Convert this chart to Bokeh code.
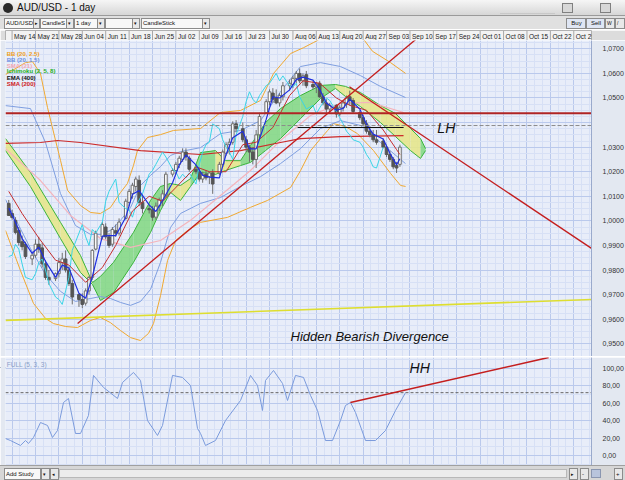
import numpy as np
import pandas as pd
from bokeh.plotting import figure
from bokeh.models import Range1d, LinearAxis, FixedTicker, Grid, CustomJSTickFormatter, Label, Div
from bokeh.layouts import column
from bokeh.core.properties import value
from bokeh.embed import file_html
from bokeh.resources import INLINE

FONT = "Liberation Sans"

# ---------------- data ----------------
week_labels = ["May 14", "May 21", "May 28", "Jun 04", "Jun 11", "Jun 18", "Jun 25", "Jul 02",
               "Jul 09", "Jul 16", "Jul 23", "Jul 30", "Aug 06", "Aug 13", "Aug 20", "Aug 27",
               "Sep 03", "Sep 10", "Sep 17", "Sep 24", "Oct 01", "Oct 08", "Oct 15", "Oct 22", "Oct 29"]
price_ticks = [0.95, 0.96, 0.97, 0.98, 0.99, 1.00, 1.01, 1.02, 1.03, 1.04, 1.05, 1.06, 1.07]
stoch_ticks = [0, 20, 40, 60, 80, 100]

opens = [1.0071, 1.0030, 1.0002, 0.9961, 0.9915, 0.9905,
         0.9845, 0.9860, 0.9905, 0.9890, 0.9825, 0.9770,
         0.9765, 0.9785, 0.9830, 0.9845, 0.9800, 0.9745,
         0.9700, 0.9680, 0.9665, 0.9715, 0.9770, 0.9885,
         0.9935, 0.9975, 0.9935, 0.9905, 0.9960, 0.9950,
         1.0010, 1.0075, 1.0110, 1.0140, 1.0165, 1.0075,
         1.0050, 1.0045, 1.0015, 1.0060, 1.0085, 1.0105,
         1.0190, 1.0205, 1.0230, 1.0250, 1.0280, 1.0255,
         1.0210, 1.0200, 1.0170, 1.0190, 1.0180, 1.0195,
         1.0195, 1.0230, 1.0275, 1.0310, 1.0320, 1.0395,
         1.0375, 1.0330, 1.0300, 1.0280, 1.0250, 1.0350,
         1.0440, 1.0485, 1.0520, 1.0500, 1.0480, 1.0505,
         1.0550, 1.0555, 1.0580, 1.0600, 1.0570, 1.0595,
         1.0555, 1.0545, 1.0560, 1.0505, 1.0480, 1.0455,
         1.0470, 1.0435, 1.0460, 1.0475, 1.0505, 1.0490,
         1.0440, 1.0420, 1.0395, 1.0365, 1.0350, 1.0330,
         1.0325, 1.0300, 1.0270, 1.0250, 1.0225, 1.0230]
highs = [1.0085, 1.0045, 1.0015, 0.9975, 0.9940, 0.9915,
         0.9870, 0.9925, 0.9935, 0.9910, 0.9840, 0.9800,
         0.9790, 0.9850, 0.9870, 0.9880, 0.9815, 0.9760,
         0.9705, 0.9705, 0.9725, 0.9775, 0.9885, 0.9960,
         0.9995, 0.9990, 0.9950, 0.9975, 0.9985, 1.0010,
         1.0090, 1.0130, 1.0155, 1.0180, 1.0185, 1.0100,
         1.0065, 1.0060, 1.0075, 1.0095, 1.0125, 1.0200,
         1.0215, 1.0240, 1.0265, 1.0295, 1.0295, 1.0265,
         1.0220, 1.0215, 1.0200, 1.0205, 1.0200, 1.0210,
         1.0240, 1.0290, 1.0320, 1.0335, 1.0405, 1.0410,
         1.0400, 1.0345, 1.0310, 1.0300, 1.0370, 1.0440,
         1.0495, 1.0535, 1.0540, 1.0535, 1.0520, 1.0565,
         1.0575, 1.0590, 1.0610, 1.0620, 1.0600, 1.0610,
         1.0570, 1.0565, 1.0570, 1.0520, 1.0495, 1.0480,
         1.0475, 1.0470, 1.0490, 1.0510, 1.0530, 1.0500,
         1.0450, 1.0430, 1.0410, 1.0385, 1.0370, 1.0370,
         1.0335, 1.0310, 1.0285, 1.0260, 1.0240, 1.0310]
lows = [1.0020, 1.0005, 0.9945, 0.9900, 0.9880, 0.9845,
        0.9820, 0.9850, 0.9870, 0.9810, 0.9760, 0.9740,
        0.9755, 0.9770, 0.9800, 0.9790, 0.9735, 0.9660,
        0.9650, 0.9645, 0.9655, 0.9700, 0.9760, 0.9880,
        0.9925, 0.9925, 0.9890, 0.9895, 0.9935, 0.9940,
        1.0005, 1.0060, 1.0090, 1.0120, 1.0060, 1.0030,
        1.0030, 1.0000, 1.0005, 1.0040, 1.0060, 1.0095,
        1.0180, 1.0190, 1.0215, 1.0240, 1.0245, 1.0200,
        1.0190, 1.0160, 1.0155, 1.0165, 1.0150, 1.0110,
        1.0185, 1.0220, 1.0265, 1.0270, 1.0310, 1.0360,
        1.0320, 1.0280, 1.0240, 1.0230, 1.0215, 1.0330,
        1.0435, 1.0470, 1.0480, 1.0475, 1.0465, 1.0490,
        1.0530, 1.0540, 1.0560, 1.0560, 1.0550, 1.0540,
        1.0535, 1.0520, 1.0500, 1.0470, 1.0440, 1.0440,
        1.0420, 1.0425, 1.0445, 1.0460, 1.0470, 1.0435,
        1.0410, 1.0385, 1.0355, 1.0340, 1.0320, 1.0310,
        1.0295, 1.0260, 1.0240, 1.0210, 1.0195, 1.0220]
closes = [1.0022, 1.0014, 0.9953, 0.9912, 0.9895, 0.9855,
          0.9860, 0.9905, 0.9885, 0.9825, 0.9770, 0.9760,
          0.9785, 0.9830, 0.9845, 0.9800, 0.9745, 0.9690,
          0.9680, 0.9660, 0.9715, 0.9770, 0.9880, 0.9950,
          0.9985, 0.9935, 0.9900, 0.9965, 0.9950, 0.9995,
          1.0080, 1.0120, 1.0145, 1.0170, 1.0075, 1.0050,
          1.0045, 1.0015, 1.0060, 1.0085, 1.0110, 1.0190,
          1.0205, 1.0230, 1.0255, 1.0280, 1.0260, 1.0210,
          1.0200, 1.0170, 1.0190, 1.0175, 1.0195, 1.0150,
          1.0230, 1.0280, 1.0310, 1.0320, 1.0395, 1.0375,
          1.0330, 1.0300, 1.0280, 1.0250, 1.0350, 1.0425,
          1.0485, 1.0525, 1.0495, 1.0480, 1.0510, 1.0550,
          1.0560, 1.0580, 1.0600, 1.0570, 1.0590, 1.0550,
          1.0545, 1.0560, 1.0505, 1.0480, 1.0455, 1.0470,
          1.0435, 1.0460, 1.0480, 1.0500, 1.0490, 1.0445,
          1.0420, 1.0395, 1.0365, 1.0350, 1.0330, 1.0320,
          1.0300, 1.0270, 1.0250, 1.0220, 1.0215, 1.0300]

# Bollinger (20, 2.5) - orange
bb25_up_x = [-1.97, 4.0, 6.1, 8.5, 10.6, 13.0, 14.5, 16.6, 20.5, 23.5, 26.4, 29.4, 32.4, 34.5, 36.3,
             37.5, 40.5, 44.4, 48.3, 56.4, 62.3, 68.3, 74.3, 78.2, 83.3, 87.2, 90.2, 92.8, 99.7,
             104.0, 107.8, 113.2, 117.7]
bb25_up_y = [1.0595, 1.0644, 1.0648, 1.0599, 1.0461, 1.0327, 1.0245, 1.0124, 1.0062, 1.0034, 1.0030,
             1.0054, 1.0115, 1.0152, 1.0225, 1.0286, 1.0339, 1.0351, 1.0368, 1.0376, 1.0441, 1.0449,
             1.0490, 1.0600, 1.0681, 1.0705, 1.0726, 1.0746, 1.0774, 1.0760, 1.0690, 1.0644, 1.0600]
bb25_lo_x = [-1.97, 2.5, 6.4, 10.0, 12.4, 16.0, 19.6, 23.5, 26.4, 29.4, 32.4, 35.4, 38.4, 40.8, 42.3,
             44.4, 46.5, 48.9, 52.5, 56.4, 64.4, 71.3, 76.4, 83.3, 86.3, 89.3, 92.3, 94.4, 96.1, 99.7,
             103.3, 108.1, 113.2, 116.2, 117.7]
bb25_lo_y = [0.9961, 0.9798, 0.9664, 0.9603, 0.9582, 0.9570, 0.9566, 0.9595, 0.9607, 0.9586, 0.9554,
             0.9525, 0.9513, 0.9542, 0.9582, 0.9696, 0.9839, 0.9920, 0.9961, 0.9994, 1.0014, 1.0055,
             1.0083, 1.0136, 1.0205, 1.0286, 1.0335, 1.0368, 1.0396, 1.0384, 1.0355, 1.0286, 1.0193,
             1.0144, 1.0140]
# Bollinger (20, 1.5) - blue
bb15_x = [-1.97, 5.49, 9.99, 14.48, 18.96, 23.45, 26.44, 29.43, 32.43, 35.42, 38.41, 41.40, 44.39,
          47.38, 50.37, 56.35, 62.34, 68.32, 74.30, 80.28, 86.26, 92.25, 98.23, 104.21, 110.19, 117.67]
bb15_up = [1.0469, 1.0457, 1.0319, 1.0111, 0.9981, 0.9945, 0.9945, 0.9961, 1.0002, 1.0054, 1.0144,
           1.0185, 1.0221, 1.0266, 1.0282, 1.0298, 1.0355, 1.0368, 1.0408, 1.0526, 1.0628, 1.0644,
           1.0628, 1.0591, 1.0547, 1.0502]
bb15_lo = [1.0087, 0.9888, 0.9782, 0.9713, 0.9672, 0.9684, 0.9692, 0.9684, 0.9668, 0.9656, 0.9672,
           0.9721, 0.9831, 0.9973, 1.0030, 1.0071, 1.0095, 1.0140, 1.0180, 1.0233, 1.0294, 1.0376,
           1.0408, 1.0388, 1.0319, 1.0233]
# SMA (21) - pink
sma21_x = [-1.97, 8.49, 17.47, 26.44, 35.42, 44.39, 53.37, 62.34, 71.31, 80.28, 89.26, 98.23, 107.2, 117.08]
sma21_y = [1.0294, 1.0164, 1.0022, 0.9928, 0.9892, 0.9920, 1.0002, 1.0103, 1.0205, 1.0327, 1.0429,
           1.0478, 1.0482, 1.0441]
# SMA (200) - red
sma200_x = [-1.97, 8.49, 13.58, 20.46, 38.41, 56.35, 68.32, 80.28, 86.26, 98.23, 117.08]
sma200_y = [1.0315, 1.0319, 1.0327, 1.0319, 1.0286, 1.0270, 1.0286, 1.0319, 1.0335, 1.0343, 1.0347]
# EMA (400) - black
ema400_x = [85.4, 117.1]
ema400_y = [1.0380, 1.0380]
# Ichimoku cloud
cloud_x = [-1.97, 5.49, 14.48, 20.46, 24.05, 26.44, 30.33, 36.31, 41.40, 44.39, 47.38, 50.37, 53.37,
           56.35, 60.84, 63.84, 68.32, 71.31, 75.80, 80.28, 86.26, 92.25, 96.73, 99.73, 104.21,
           110.19, 114.68, 119.17, 122.16, 123.66]
cloud_top = [1.0335, 1.0197, 0.9994, 0.9859, 0.9749, 0.9774, 0.9831, 0.9953, 1.0083, 1.0140, 1.0152,
             1.0144, 1.0172, 1.0278, 1.0286, 1.0245, 1.0245, 1.0307, 1.0400, 1.0457, 1.0510, 1.0551,
             1.0555, 1.0547, 1.0522, 1.0469, 1.0437, 1.0376, 1.0335, 1.0294]
cloud_bot = [1.0286, 1.0140, 0.9928, 0.9790, 0.9741, 0.9676, 0.9708, 0.9831, 0.9953, 1.0042, 1.0116,
             1.0083, 1.0140, 1.0197, 1.0189, 1.0205, 1.0225, 1.0238, 1.0286, 1.0335, 1.0416, 1.0498,
             1.0539, 1.0506, 1.0465, 1.0400, 1.0343, 1.0286, 1.0254, 1.0286]
cloud_green = [0, 0, 0, 0, 1, 1, 1, 1, 1, 1, 0, 0, 1, 1, 0, 0, 1, 1, 1, 1, 1, 1, 0, 0, 0, 0, 0, 0, 1]
# Ichimoku lines (candle index, value)
tenkan_i = list(range(0, 101, 2)) + [101]
tenkan_v = [1.0052, 0.9995, 0.9928, 0.9868, 0.9893, 0.9835, 0.9770, 0.9820, 0.9808, 0.9705, 0.9685,
            0.9773, 0.9938, 0.9940, 0.9940, 1.0015, 1.0108, 1.0123, 1.0065, 1.0038, 1.0083, 1.0155,
            1.0228, 1.0268, 1.0228, 1.0185, 1.0178, 1.0175, 1.0270, 1.0338, 1.0365, 1.0293, 1.0293,
            1.0413, 1.0505, 1.0500, 1.0533, 1.0575, 1.0585, 1.0573, 1.0535, 1.0480, 1.0450, 1.0458,
            1.0495, 1.0455, 1.0393, 1.0353, 1.0333, 1.0275, 1.0228, 1.0253]
kijun_i = list(range(0, 101, 4)) + [101]
kijun_v = [1.012, 1.003, 0.993, 0.984, 0.982, 0.975, 0.981, 0.990, 1.004, 1.010, 1.008, 1.015, 1.022,
           1.020, 1.020, 1.031, 1.032, 1.038, 1.051, 1.057, 1.056, 1.050, 1.047, 1.045, 1.037, 1.029, 1.027]
chikou_shift = 5
# drawn lines
yellow_x = [-1.97, 173.3]
yellow_y = [0.9595, 0.9680]
up_trend_x = [19.6, 121.5]
up_trend_y = [0.9582, 1.0747]
down_trend_x = [100.9, 173.3]
down_trend_y = [1.0546, 0.9888]
resistance = 1.0438
last_price = 1.0388
# stochastic full (5,3,3)
stoch_x = [-1.97, -0.48, 2.51, 4.01, 4.91, 6.40, 8.50, 10.59, 12.08, 13.58, 15.38, 16.87, 18.96, 20.46,
           22.85, 24.35, 27.34, 31.53, 33.03, 36.31, 38.41, 40.50, 43.49, 44.99, 47.98, 50.97, 53.37,
           55.46, 56.36, 57.85, 60.84, 63.84, 68.32, 71.31, 73.40, 74.90, 75.80, 78.19, 80.88, 82.38,
           84.77, 87.16, 89.26, 91.35, 93.74, 95.84, 98.23, 99.73, 101.22, 102.72, 105.71, 108.70,
           111.69, 114.68, 117.67]
stoch_v = [19.5, 17.2, 11.5, 17.2, 13.8, 20.7, 37.9, 34.5, 20.7, 28.7, 60.9, 65.5, 25.3, 25.3,
           46.0, 92.0, 78.2, 65.5, 83.9, 95.4, 86.2, 40.2, 23.0, 34.5, 92.0, 89.7, 80.5,
           31.0, 25.3, 11.5, 17.2, 40.2, 63.2, 92.0, 80.5, 51.7, 86.2, 97.7, 82.8, 63.2,
           92.0, 89.7, 69.0, 51.7, 17.2, 17.2, 40.2, 57.5, 60.9, 49.4, 17.2, 17.2,
           28.7, 51.7, 72.2]
stoch_last = 72.19
hh_x = [101.2, 160.5]
hh_y = [60.9, 112.6]

# ---------------- positions ----------------
dates = pd.date_range("2012-05-13", "2012-09-07", freq="D")
dates = dates[dates.dayofweek != 5]
xs = np.asarray((dates - pd.Timestamp("2012-05-14")).days, dtype=float)
O = np.array(opens); H = np.array(highs); L = np.array(lows); C = np.array(closes)

X0, X1 = -1.97, 173.3
xr = Range1d(X0, X1)
week_ticks = [7 * k for k in range(0, 26)]
minor_x = [7 * k + 7 * j / 3 for k in range(-1, 26) for j in (1, 2)]

GRID = "#bac9ec"
MINOR = "#d7e0f5"
BG = "#e8edf9"
BORDER = "#e3e8f1"

def base_fig(h, yr):
    f = figure(frame_width=586, frame_height=h, x_range=xr, y_range=yr,
               x_axis_type=None, y_axis_type=None, toolbar_location=None, output_backend="svg",
               min_border_left=5, min_border_right=34, min_border_top=0, min_border_bottom=0,
               background_fill_color=BG, border_fill_color=BORDER, outline_line_color=None)
    f.add_layout(Grid(dimension=0, ticker=FixedTicker(ticks=week_ticks, minor_ticks=minor_x),
                      grid_line_color=GRID, minor_grid_line_color=MINOR))
    return f

# ---------------- header (dates) ----------------
hdr = figure(frame_width=586, frame_height=11, x_range=xr, y_range=Range1d(0, 1),
             x_axis_type=None, y_axis_type=None, toolbar_location=None, output_backend="svg",
             min_border_left=5, min_border_right=34, min_border_top=0, min_border_bottom=0,
             background_fill_color="#f3f3f3", border_fill_color="#dcdcdc", outline_line_color="#b0b0b0")
hdr.segment(x0=week_ticks, y0=0, x1=week_ticks, y1=1, color="#a8a8a8", line_width=1)
hdr.text(x=[t + 0.6 for t in week_ticks[:len(week_labels)]], y=0.45, text=week_labels,
         text_font=value(FONT), text_font_size="6.5px", text_color="#222222",
         text_baseline="middle", text_align="left")

# ---------------- main price panel ----------------
p = base_fig(316, Range1d(0.9448, 1.0734))
minor_y = [round(0.945 + 0.0025 * i, 4) for i in range(0, 53)]
p.add_layout(Grid(dimension=1, ticker=FixedTicker(ticks=price_ticks, minor_ticks=minor_y),
                  grid_line_color=GRID, minor_grid_line_color=MINOR))
yax = LinearAxis(ticker=FixedTicker(ticks=price_ticks),
                 formatter=CustomJSTickFormatter(code="""
                   if (Math.abs(tick - 1.04) < 1e-6) { return ''; }
                   return tick.toFixed(4).replace('.', ',');"""),
                 major_tick_line_color=None, minor_tick_line_color=None,
                 axis_line_color="#9aaacc", major_label_text_font_size="7px",
                 major_label_text_color="#333333", major_label_text_font=FONT,
                 major_label_standoff=5)
p.add_layout(yax, "right")

# cloud
pxs, pys, pcol = [], [], []
for i in range(len(cloud_x) - 1):
    pxs.append([cloud_x[i], cloud_x[i + 1], cloud_x[i + 1], cloud_x[i]])
    pys.append([cloud_top[i], cloud_top[i + 1], cloud_bot[i + 1], cloud_bot[i]])
    pcol.append("#86d886" if cloud_green[i] else "#e6e68c")
p.patches(pxs, pys, fill_color=pcol, fill_alpha=0.9, line_color=None)
p.line(cloud_x, cloud_top, color="#3cb43c", line_width=1)
p.line(cloud_x, cloud_bot, color="#3cb43c", line_width=1)

# bands and averages
p.line(bb25_up_x, bb25_up_y, color="#f0a830", line_width=1)
p.line(bb25_lo_x, bb25_lo_y, color="#f0a830", line_width=1)
p.line(bb15_x, bb15_up, color="#7e9ee0", line_width=1)
p.line(bb15_x, bb15_lo, color="#7e9ee0", line_width=1)
p.line(sma21_x, sma21_y, color="#f4b4bc", line_width=1.2)
p.line(sma200_x, sma200_y, color="#cc2a2a", line_width=1.2)
p.line(yellow_x, yellow_y, color="#dede30", line_width=1.6)

# candles
inc = C >= O
p.segment(x0=xs, y0=H, x1=xs, y1=L, color="#6e6e6e", line_width=1)
p.vbar(x=xs[inc], bottom=O[inc], top=C[inc], width=0.8, fill_color="#fafafa", line_color="#6e6e6e")
p.vbar(x=xs[~inc], bottom=C[~inc], top=O[~inc], width=0.8, fill_color="#555555", line_color="#555555")

# ichimoku lines
p.line(xs[:-chikou_shift], C[chikou_shift:], color="#3ad4e6", line_width=1)
p.line(xs[kijun_i], kijun_v, color="#c42e2e", line_width=1)
p.line(xs[tenkan_i], tenkan_v, color="#1e2ee0", line_width=1.2)
p.line(ema400_x, ema400_y, color="#111111", line_width=1.2)

# drawn objects
p.line([X0, X1], [resistance, resistance], color="#b02424", line_width=2)
p.line([X0, X1], [last_price, last_price], color="#8c8c8c", line_width=1, line_dash="4 2")
p.line(up_trend_x, up_trend_y, color="#c41e1e", line_width=1.3)
p.line(down_trend_x, down_trend_y, color="#c41e1e", line_width=1.3)

# legend texts
leg_text = ["BB (20, 2.5)", "BB (20, 1.5)", "SMA (21)", "Ichimoku (2, 5, 8)", "EMA (400)", "SMA (200)"]
leg_col = ["#f0a020", "#6a8fe0", "#f4a8b4", "#22b022", "#111111", "#d02020"]
leg_y = [1.0681, 1.0656, 1.0632, 1.0608, 1.0583, 1.0559]
p.text(x=[-1.6] * 6, y=leg_y, text=leg_text, text_color=leg_col, text_font=value(FONT),
       text_font_size="6px", text_font_style="bold", text_baseline="middle", text_align="left")

p.text(x=[127.2], y=[1.0376], text=["LH"], text_font=value(FONT), text_font_size="14px",
       text_font_style="italic", text_color="#111111", text_baseline="middle", text_align="left")
p.text(x=[83.3], y=[0.9529], text=["Hidden Bearish Divergence"], text_font=value(FONT),
       text_font_size="13px", text_font_style="italic", text_color="#111111",
       text_baseline="middle", text_align="left")

p.add_layout(Label(x=173.6, y=last_price, text="1,0388", text_font=FONT, text_font_size="7px",
                   text_color="#222222", text_baseline="middle", text_align="left",
                   background_fill_color="#cfdbf4", border_line_color="#6d8bca"))

# ---------------- stochastic panel ----------------
s = base_fig(108, Range1d(-11.5, 112.6))
s.add_layout(Grid(dimension=1, ticker=FixedTicker(ticks=stoch_ticks, minor_ticks=list(range(-10, 111, 10))),
                  grid_line_color=GRID, minor_grid_line_color=MINOR))
sax = LinearAxis(ticker=FixedTicker(ticks=stoch_ticks),
                 formatter=CustomJSTickFormatter(code="return tick.toFixed(2).replace('.', ',');"),
                 major_tick_line_color=None, minor_tick_line_color=None,
                 axis_line_color="#9aaacc", major_label_text_font_size="7px",
                 major_label_text_color="#333333", major_label_text_font=FONT,
                 major_label_standoff=5)
s.add_layout(sax, "right")
s.line([X0, X1], [stoch_last, stoch_last], color="#666666", line_width=1, line_dash="3 2")
s.line(stoch_x, stoch_v, color="#7b9bdc", line_width=1)
s.line(hh_x, hh_y, color="#c41e1e", line_width=1.6)
s.text(x=[-1.6], y=[104.6], text=["FULL (5, 3, 3)"], text_font=value(FONT), text_font_size="6.5px",
       text_color="#8aa0c8", text_baseline="middle", text_align="left")
s.text(x=[118.9], y=[100.0], text=["HH"], text_font=value(FONT), text_font_size="14px",
       text_font_style="italic", text_color="#111111", text_baseline="middle", text_align="left")
s.add_layout(Label(x=173.6, y=stoch_last, text="72,19", text_font=FONT, text_font_size="7px",
                   text_color="#222222", text_baseline="middle", text_align="left",
                   background_fill_color="#cfdbf4", border_line_color="#6d8bca"))

# ---------------- window chrome ----------------
def box(left, w, text="", bg="#f8f8f8", top=2, h=9, fs=6, align="left"):
    return (f'<div style="position:absolute;left:{left}px;top:{top}px;width:{w}px;height:{h}px;'
            f'border:1px solid #8c8c8c;background:{bg};font-size:{fs}px;line-height:{h}px;'
            f'color:#111;text-align:{align};padding-left:1px;box-sizing:content-box;'
            f'overflow:hidden;white-space:nowrap;">{text}</div>')

title_html = ('<div style="position:relative;width:625px;height:16px;overflow:hidden;'
              'background:linear-gradient(#f6f6f6,#d4d4d4);font-family:\'Liberation Sans\',sans-serif;">'
              '<div style="position:absolute;left:3px;top:3px;width:10px;height:10px;border-radius:50%;background:#2a2a2a;"></div>'
              '<div style="position:absolute;left:17px;top:2px;font-size:10px;line-height:12px;color:#111;">AUD/USD - 1 day</div>'
              '<div style="position:absolute;left:500px;top:13px;width:55px;height:1px;background:#c8c8c8;"></div>'
              '<div style="position:absolute;left:562px;top:3px;width:11px;height:10px;border:1px solid #808080;background:#d8d8d8;"></div>'
              '<div style="position:absolute;left:600px;top:3px;width:11px;height:10px;border:1px solid #808080;background:#d8d8d8;"></div>'
              '<div style="position:absolute;left:0;top:15px;width:625px;height:1px;background:#9a9a9a;"></div>'
              '</div>')
tool_html = ('<div style="position:relative;width:625px;height:13px;overflow:hidden;background:#e0e0e0;'
             'font-family:\'Liberation Sans\',sans-serif;">'
             + box(4, 27, "AUD/USD") + box(33, 4, "&#9656;", bg="#e8e8e8", fs=5)
             + box(40, 24, "CandleS") + box(66, 5, "&#9662;", bg="#e8e8e8", fs=5)
             + box(74, 21, "1 day") + box(97, 5, "&#9662;", bg="#e8e8e8", fs=5)
             + box(105, 25, "") + box(132, 5, "&#9662;", bg="#e8e8e8", fs=5)
             + box(141, 59, "CandleStick") + box(202, 5, "&#9662;", bg="#e8e8e8", fs=5)
             + box(566, 17, "Buy", bg="#dfe6f4", align="center") + box(586, 16, "Sell", bg="#dfe6f4", align="center")
             + box(605, 7, "W", bg="#e8e8e8", fs=5) + box(615, 7, "/", bg="#e8e8e8", fs=5)
             + '</div>')
bottom_html = ('<div style="position:relative;width:625px;height:15px;overflow:hidden;background:#d6d6d6;'
               'font-family:\'Liberation Sans\',sans-serif;border-top:1px solid #a0a0a0;box-sizing:border-box;">'
               + box(4, 34, "Add Study", top=2, h=10) + box(41, 6, "&#9662;", top=2, h=10, bg="#e8e8e8", fs=5)
               + box(50, 6, "&#9666;", top=2, h=10, bg="#e8e8e8", fs=5)
               + '<div style="position:absolute;left:59px;top:3px;width:508px;height:9px;background:#ececec;border:1px solid #b8b8b8;"></div>'
               + box(569, 6, "&#9656;", top=2, h=10, bg="#e8e8e8", fs=5) + box(580, 6, "-", top=2, h=10, bg="#e8e8e8")
               + '<div style="position:absolute;left:591px;top:3px;width:10px;height:9px;background:#b8c4dc;border:1px solid #8a96b0;"></div>'
               + box(614, 6, "+", top=2, h=10, bg="#e8e8e8")
               + '</div>')

title_div = Div(text=title_html, width=625, height=16, margin=(0, 0, 0, 0))
tool_div = Div(text=tool_html, width=625, height=13, margin=(0, 0, 0, 0))
sep_div = Div(text='<div style="width:625px;height:1px;background:#a4acbc;"></div>', width=625, height=1,
              margin=(0, 0, 0, 0))
bottom_div = Div(text=bottom_html, width=625, height=15, margin=(0, 0, 0, 0))

layout = column(title_div, tool_div, hdr, p, sep_div, s, bottom_div, spacing=0)

open("out.html", "w").write(file_html(layout, INLINE))
